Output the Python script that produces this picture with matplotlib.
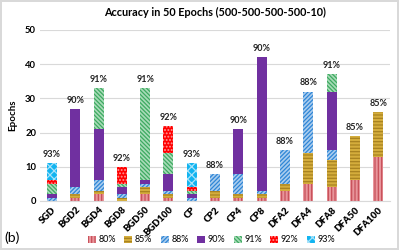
import numpy as np
import matplotlib
matplotlib.use('Agg')
import matplotlib.pyplot as plt

plt.rcParams['font.family'] = ['Lato', 'DejaVu Sans']
plt.rcParams['hatch.linewidth'] = 0.9

# epochs needed to go from one accuracy level to the next (stacked)
methods = ['SGD', 'BGD2', 'BGD4', 'BGD8', 'BGD50', 'BGD100', 'CP', 'CP2',
           'CP4', 'CP8', 'DFA2', 'DFA4', 'DFA8', 'DFA50', 'DFA100']
levels = ['80%', '85%', '88%', '90%', '91%', '92%', '93%']
e80 = [0, 1, 2, 0, 2, 1, 0, 1, 1, 1, 3, 5, 4, 6, 13]
e85 = [0, 1, 1, 1, 2, 1, 0, 2, 1, 1, 2, 9, 8, 13, 13]
e88 = [1, 2, 3, 1, 1, 1, 1, 5, 6, 1, 10, 18, 3, 0, 0]
e90 = [1, 23, 15, 2, 1, 5, 1, 0, 13, 39, 0, 0, 17, 0, 0]
e91 = [3, 0, 12, 1, 27, 6, 1, 0, 0, 0, 0, 0, 5, 0, 0]
e92 = [1, 0, 0, 5, 0, 8, 1, 0, 0, 0, 0, 0, 0, 0, 0]
e93 = [5, 0, 0, 0, 0, 0, 7, 0, 0, 0, 0, 0, 0, 0, 0]
best = ['93%', '90%', '91%', '92%', '91%', '92%', '93%', '88%',
        '90%', '90%', '88%', '88%', '91%', '85%', '85%']

# face, hatch colour, hatch
styles = [('#E8959B', '#C8505A', '|||||'),
          ('#D4AD3C', '#A88220', '-----'),
          ('#A9CCEE', '#2F86D6', '////////'),
          ('#7030A0', '#7030A0', ''),
          ('#A8DBB8', '#3DAA60', '\\\\\\\\\\\\\\\\'),
          ('#FF0000', '#FF9A9A', '.....'),
          ('#12B4F0', '#A8E2FA', 'xxxx')]

fig = plt.figure(figsize=(3.99, 2.5), dpi=100)
fig.patch.set_edgecolor('#D9D9D9')
fig.patch.set_linewidth(1.5)
ax = fig.add_axes([0.101, 0.196, 0.876, 0.684])

x = np.arange(len(methods))
bottom = np.zeros(len(methods))
for lev, seg, (fc, hc, h) in zip(levels, [e80, e85, e88, e90, e91, e92, e93], styles):
    seg = np.array(seg, dtype=float)
    ax.bar(x, seg, 0.43, bottom=bottom, color=fc, edgecolor=hc, hatch=h,
           linewidth=0, label=lev)
    bottom += seg

for xi, top, lab in zip(x, bottom, best):
    ax.text(xi, top + 1.2, lab, ha='center', va='bottom', fontsize=6.5,
            fontweight='bold', color='#222222')

ax.set_xlim(-0.5, len(methods) - 0.5)
ax.set_ylim(0, 50)
ax.set_yticks([0, 10, 20, 30, 40, 50])
ax.yaxis.grid(True, color='#D9D9D9', linewidth=0.8)
ax.set_axisbelow(True)
for s in ['top', 'right', 'left']:
    ax.spines[s].set_visible(False)
ax.spines['bottom'].set_color('#D9D9D9')
ax.tick_params(length=0, labelsize=6.8, pad=3)
ax.set_xticks(x)
ax.set_xticklabels(methods, rotation=45, ha='right', rotation_mode='anchor',
                   fontweight='heavy')
for t in ax.get_yticklabels():
    t.set_fontweight('bold')
ax.set_ylabel('Epochs', fontsize=7, fontweight='bold', labelpad=6)
ax.set_title('Accuracy in 50 Epochs (500-500-500-500-10)', fontsize=7.8,
             fontweight='bold', pad=10)

fig.legend(loc='lower center', bbox_to_anchor=(0.53, -0.01), ncol=7,
           fontsize=6.5, frameon=False, handlelength=0.9, handleheight=0.9,
           handletextpad=0.3, columnspacing=0.9)
fig.text(0.012, 0.03, '(b)', fontsize=10)

fig.savefig('out.png', dpi=100)
